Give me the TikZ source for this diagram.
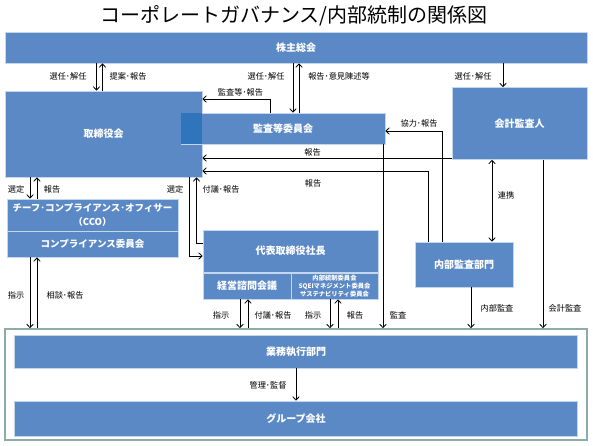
\documentclass[tikz,border=0pt]{standalone}
\usepackage{fontspec}
\setmainfont{Noto Sans CJK JP}
\usetikzlibrary{positioning,arrows.meta}
\definecolor{boxblue}{RGB}{91,137,198}
\definecolor{lapblue}{RGB}{48,117,188}
\definecolor{edgeblue}{RGB}{196,214,238}
\definecolor{framegray}{RGB}{140,172,168}

\begin{document}
\begin{tikzpicture}[x=1pt,y=-1pt,>={Straight Barb[length=3.5pt,width=6.5pt]},
        blk/.style={draw=edgeblue,line width=0.6pt,fill=boxblue,text=white,inner sep=0pt,align=center,font=\bfseries\fontsize{10}{12}\selectfont},
        lbl/.style={inner sep=0pt,font=\fontsize{8.2}{10}\selectfont},
        arr/.style={->,line width=0.8pt}]
        \useasboundingbox (0,0) rectangle (593,445);

        \node [font=\fontsize{20}{24}\selectfont] at (294,16) (ttl) {コーポレートガバナンス/内部統制の関係図};

        \node [blk,minimum width=582,minimum height=31] at (296,47.5) (sh) {株主総会};
        \node [blk,minimum width=197,minimum height=86] at (103.5,134) (bod) {取締役会};
        \node [blk,minimum width=204,minimum height=31] at (283,128.5) (acb) {監査等委員会};
        \fill [lapblue] (acb.north west) rectangle (bod.east |- acb.south);
        \node [blk,minimum width=135,minimum height=72] at (519.5,123.5) (aud) {会計監査人};
        \node [blk,minimum width=171,minimum height=32,font=\bfseries\fontsize{9.5}{14}\selectfont] at (92.5,215) (cco) {チーフ･コンプライアンス･オフィサー\\（CCO）};
        \node [blk,minimum width=171,minimum height=26,font=\bfseries\fontsize{9.5}{12}\selectfont] at (92.5,244) (cmp) {コンプライアンス委員会};
        \node [blk,minimum width=175,minimum height=42] at (290.5,251) (ceo) {代表取締役社長};
        \node [blk,minimum width=88,minimum height=26] at (247,286) (kei) {経営諮問会議};
        \node [blk,minimum width=87,minimum height=26,font=\bfseries\fontsize{6.3}{8}\selectfont] at (334.5,286) (com) {内部統制委員会\\SQEIマネジメント委員会\\サステナビリティ委員会};
        \node [blk,minimum width=98,minimum height=45] at (464,264.5) (iad) {内部監査部門};
        \node [draw=framegray,line width=1.5pt,minimum width=582,minimum height=111,inner sep=0pt] at (296,384.5) (frm) {};
        \node [blk,minimum width=563,minimum height=33] at (296,351.5) (biz) {業務執行部門};
        \node [blk,minimum width=563,minimum height=35] at (296,418.5) (grp) {グループ会社};

        \draw [arr] (96.5,0 |- sh.south) -- (96.5,0 |- bod.north);
        \draw [arr] (102.5,0 |- bod.north) -- (102.5,0 |- sh.south);
        \draw [arr] (293,0 |- sh.south) -- (293,0 |- acb.north);
        \draw [arr] (299,0 |- acb.north) -- (299,0 |- sh.south);
        \draw [arr] (503,0 |- sh.south) -- (503,0 |- aud.north);
        \draw [arr] (270,0 |- acb.north) |- (bod.east |- 0,99);
        \draw [arr] (442,0 |- iad.north) |- (acb.east |- 0,131);
        \draw [arr] (aud.west |- 0,158) -- (bod.east |- 0,158);
        \draw [arr] (428,0 |- iad.north) |- (bod.east |- 0,171);
        \draw [arr] (383,0 |- acb.south) -- (383,0 |- frm.north);
        \draw [arr,<->] (492,0 |- aud.south) -- (492,0 |- iad.north);
        \draw [arr] (471,0 |- iad.south) -- (471,0 |- frm.north);
        \draw [arr] (543,0 |- aud.south) -- (543,0 |- frm.north);
        \draw [arr] (30,0 |- bod.south) -- (30,0 |- cco.north);
        \draw [arr] (37,0 |- cco.north) -- (37,0 |- bod.south);
        \draw [arr] (189,0 |- bod.south) |- (ceo.west |- 0,256);
        \draw [arr] (ceo.west |- 0,243) -| (196.5,0 |- bod.south);
        \draw [arr] (30,0 |- cmp.south) -- (30,0 |- frm.north);
        \draw [arr] (37,0 |- frm.north) -- (37,0 |- cmp.south);
        \draw [arr] (240,0 |- kei.south) -- (240,0 |- frm.north);
        \draw [arr] (248,0 |- frm.north) -- (248,0 |- kei.south);
        \draw [arr] (330,0 |- com.south) -- (330,0 |- frm.north);
        \draw [arr] (338,0 |- frm.north) -- (338,0 |- com.south);
        \draw [arr] (296,0 |- biz.south) -- (296,0 |- grp.north);

        \node [lbl] at (68,76) (l1) {選任･解任};
        \node [lbl] at (128,76) (l2) {提案･報告};
        \node [lbl] at (266,76) (l3) {選任･解任};
        \node [lbl] at (339,76) (l4) {報告･意見陳述等};
        \node [lbl] at (473,76) (l5) {選任･解任};
        \node [lbl] at (240.5,92) (l6) {監査等･報告};
        \node [lbl] at (419,123) (l7) {協力･報告};
        \node [lbl] at (312.5,152) (l8) {報告};
        \node [lbl] at (313,183) (l9) {報告};
        \node [lbl] at (16,189) (l10) {選定};
        \node [lbl] at (52,189) (l11) {報告};
        \node [lbl] at (175,189) (l12) {選定};
        \node [lbl] at (221,189) (l13) {付議･報告};
        \node [lbl] at (506,195) (l14) {連携};
        \node [lbl] at (16,295) (l15) {指示};
        \node [lbl] at (65,295) (l16) {相談･報告};
        \node [lbl] at (497,308) (l17) {内部監査};
        \node [lbl] at (565,308) (l18) {会計監査};
        \node [lbl] at (221,315) (l19) {指示};
        \node [lbl] at (273,315) (l20) {付議･報告};
        \node [lbl] at (313,315) (l21) {指示};
        \node [lbl] at (355,315) (l22) {報告};
        \node [lbl] at (398,315) (l23) {監査};
        \node [lbl] at (268,385) (l24) {管理･監督};
      \end{tikzpicture}
\end{document}
